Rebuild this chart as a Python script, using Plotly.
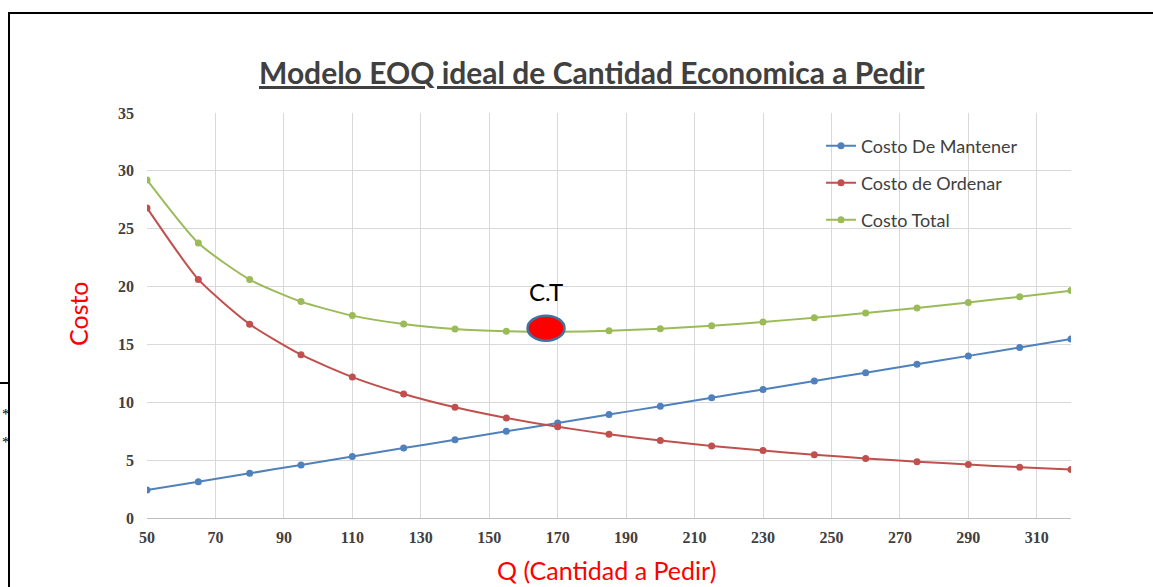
import plotly.graph_objects as go

# Order quantities Q (units per order)
q_values = [50, 65, 80, 95, 110, 125, 140, 155, 170, 185, 200, 215, 230, 245, 260, 275, 290, 305, 320]

# Annual holding cost
costo_mantener = [2.42, 3.14, 3.86, 4.59, 5.31, 6.04, 6.76, 7.49, 8.21, 8.94, 9.66,
                  10.39, 11.11, 11.84, 12.56, 13.28, 14.01, 14.73, 15.46]
# Annual ordering cost
costo_ordenar = [26.80, 20.62, 16.75, 14.11, 12.18, 10.72, 9.57, 8.65, 7.88, 7.24, 6.70,
                 6.23, 5.83, 5.47, 5.15, 4.87, 4.62, 4.39, 4.19]
# Total cost
costo_total = [29.22, 23.76, 20.61, 18.70, 17.49, 16.76, 16.33, 16.14, 16.09, 16.18, 16.36,
               16.62, 16.94, 17.31, 17.71, 18.15, 18.63, 19.12, 19.65]

x_ticks = [50, 70, 90, 110, 130, 150, 170, 190, 210, 230, 250, 270, 290, 310]
y_ticks = [0, 5, 10, 15, 20, 25, 30, 35]

# Minimum total-cost point highlighted on the chart
ct_q = 166.6
ct_cost = 16.4

series = [
    ("Costo De Mantener", costo_mantener, "#4f81bd", "legend"),
    ("Costo de Ordenar", costo_ordenar, "#c0504d", "legend2"),
    ("Costo Total", costo_total, "#9bbb59", "legend3"),
]

W, H = 1153, 587
L, R, T, B = 147, 82, 113, 69
PW, PH = W - L - R, H - T - B


def px_x(p):
    return (p - L) / PW


def px_y(p):
    return (H - B - p) / PH


fig = go.Figure()
for name, vals, color, lg in series:
    fig.add_trace(go.Scatter(
        x=q_values, y=vals, name=name, mode="lines+markers",
        line=dict(color=color, width=2, shape="spline", smoothing=0.6),
        marker=dict(color=color, size=7),
        legend=lg, showlegend=True,
    ))

legend_font = dict(family="Lato, Carlito, sans-serif", size=18, color="#404040")
legend_common = dict(font=legend_font, bgcolor="rgba(0,0,0,0)", borderwidth=0,
                     xanchor="left", yanchor="middle", itemwidth=30, visible=True)

fig.update_layout(
    width=W, height=H,
    showlegend=True,
    margin=dict(l=L, r=R, t=T, b=B, autoexpand=False),
    paper_bgcolor="white", plot_bgcolor="white",
    legend=dict(x=px_x(821), y=px_y(146), **legend_common),
    legend2=dict(x=px_x(821), y=px_y(183), **legend_common),
    legend3=dict(x=px_x(821), y=px_y(220), **legend_common),
    xaxis=dict(
        range=[50, 320], tickvals=x_ticks, ticktext=[str(v) for v in x_ticks],
        showgrid=True, gridcolor="#d9d9d9", gridwidth=1,
        showline=True, linecolor="#bfbfbf", linewidth=1, zeroline=False,
        ticks="", ticklabelstandoff=5,
        tickfont=dict(family="Liberation Serif", size=16, color="#404040", weight="bold"),
    ),
    yaxis=dict(
        range=[0, 35], tickvals=y_ticks,
        showgrid=True, gridcolor="#d9d9d9", gridwidth=1,
        showline=False, zeroline=False, ticks="", ticklabelstandoff=12,
        tickfont=dict(family="Liberation Serif", size=16, color="#404040", weight="bold"),
    ),
)

# C.T marker (ellipse around the minimum total cost)
fig.add_shape(type="circle", xref="x", yref="y",
              x0=ct_q - 5.4, x1=ct_q + 5.4, y0=ct_cost - 1.08, y1=ct_cost + 1.08,
              fillcolor="#ff0000", line=dict(color="#41719c", width=2.5), layer="above")
fig.add_annotation(x=ct_q, y=ct_cost, xref="x", yref="y", text="C.T",
                   showarrow=False, yshift=37,
                   font=dict(family="Lato, Carlito, sans-serif", size=24, color="#000000"))

# Title
fig.add_annotation(x=px_x(592), y=px_y(72), xref="paper", yref="paper",
                   text="Modelo EOQ ideal de Cantidad Economica a Pedir", showarrow=False,
                   xanchor="center", yanchor="middle",
                   font=dict(family="Lato, Carlito, sans-serif", size=30, color="#404040",
                             weight="bold", lineposition="under"))

# Axis titles
fig.add_annotation(x=px_x(78), y=px_y(314), xref="paper", yref="paper", text="Costo",
                   showarrow=False, textangle=-90, xanchor="center", yanchor="middle",
                   font=dict(family="Lato, Carlito, sans-serif", size=25, color="#ff0000"))
fig.add_annotation(x=px_x(606), y=px_y(587), xref="paper", yref="paper",
                   text="Q (Cantidad a Pedir)", showarrow=False,
                   xanchor="center", yanchor="bottom",
                   font=dict(family="Lato, Carlito, sans-serif", size=25, color="#ff0000"))

# Page frame around the chart
fig.add_shape(type="rect", xref="paper", yref="paper",
              x0=px_x(9), x1=px_x(1160), y0=px_y(13), y1=px_y(600),
              line=dict(color="#000000", width=2), fillcolor="rgba(0,0,0,0)", layer="above")
fig.add_shape(type="line", xref="paper", yref="paper",
              x0=px_x(0), x1=px_x(9), y0=px_y(383), y1=px_y(383),
              line=dict(color="#000000", width=2))
for yy in (414, 442):
    fig.add_annotation(x=px_x(0), y=px_y(yy), xref="paper", yref="paper", text="*",
                       showarrow=False, xanchor="left", yanchor="middle",
                       font=dict(family="Liberation Serif", size=15, color="#000000"))

fig.write_html("out.html")
